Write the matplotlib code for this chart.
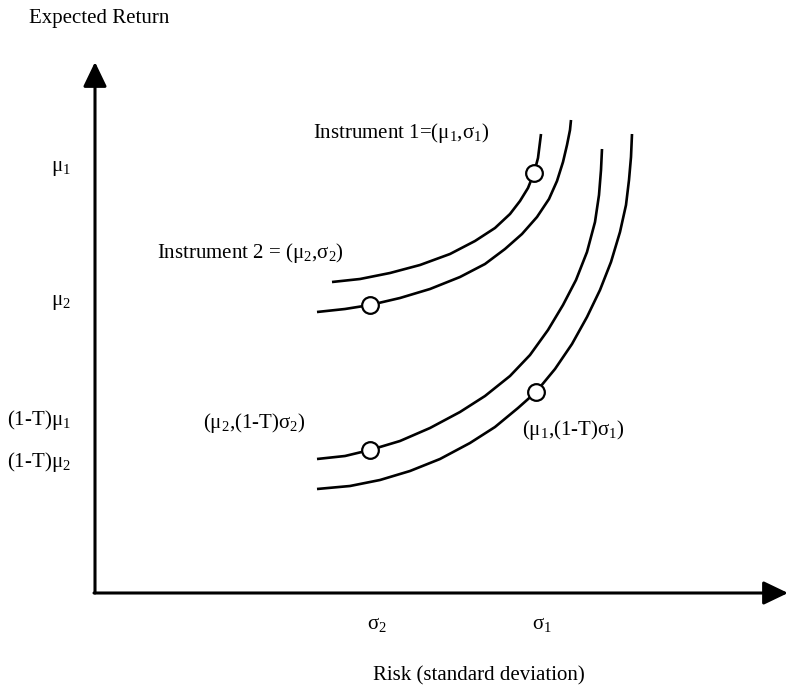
import matplotlib
matplotlib.use("Agg")
import matplotlib.pyplot as plt

plt.rcParams['font.family'] = ['Liberation Serif', 'DejaVu Serif']
plt.rcParams['mathtext.fontset'] = 'custom'
plt.rcParams['mathtext.rm'] = 'Liberation Serif'
plt.rcParams['mathtext.it'] = 'Liberation Serif:italic'
plt.rcParams['mathtext.bf'] = 'Liberation Serif:bold'

# ---- data (risk, expected return) in schematic units ----
curve_a_risk = [237, 265, 295, 325, 355, 380, 400, 415, 425, 433, 439, 443, 446]
curve_a_ret = [311, 314, 320, 328, 339, 352, 365, 379, 392, 405, 420, 435, 459]

curve_b_risk = [222, 250, 275, 305, 335, 365, 390, 410, 427, 442, 454, 462, 468, 472, 475, 476]
curve_b_ret = [281, 284, 288, 295, 304, 316, 329, 344, 359, 376, 394, 412, 431, 448, 463, 473]

curve_c_risk = [222, 250, 275, 305, 335, 365, 390, 415, 435, 453, 468, 481, 492, 500, 504, 506, 507]
curve_c_ret = [134, 137, 143, 152, 165, 181, 197, 217, 238, 263, 288, 313, 341, 371, 398, 423, 444]

curve_d_risk = [222, 255, 285, 315, 345, 375, 400, 423, 441, 460, 477, 492, 505, 516, 525, 531, 534, 536, 537]
curve_d_ret = [104, 107, 113, 122, 134, 150, 166, 185, 201, 224, 249, 276, 303, 331, 361, 388, 413, 436, 459]

point_risk = [439, 275, 275, 441]
point_ret = [420, 288, 143, 201]

x_tick_pos = [282, 447]
x_tick_labels = [r'$\mathrm{\sigma_2}$', r'$\mathrm{\sigma_1}$']

y_tick_pos = [425, 290, 173, 131]
y_tick_labels = [r'$\mathrm{\mu_1}$', r'$\mathrm{\mu_2}$',
                 r'(1-T)$\mathrm{\mu_1}$', r'(1-T)$\mathrm{\mu_2}$']

annot_texts = [r'Instrument 1=($\mathrm{\mu_1}$,$\mathrm{\sigma_1}$)',
               r'Instrument 2 = ($\mathrm{\mu_2}$,$\mathrm{\sigma_2}$)',
               r'($\mathrm{\mu_2}$,(1-T)$\mathrm{\sigma_2}$)',
               r'($\mathrm{\mu_1}$,(1-T)$\mathrm{\sigma_1}$)']
annot_x = [218, 62, 108, 427]
annot_y = [460, 340, 170, 163]

fig = plt.figure(figsize=(7.88, 6.87), dpi=100)
ax = fig.add_axes([0, 0, 1, 1])
ax.set_xlim(-95, 693)
ax.set_ylim(-94, 593)
ax.axis('off')

fs = 15
lw = 1.9
for xs, ys in [(curve_a_risk, curve_a_ret), (curve_b_risk, curve_b_ret),
               (curve_c_risk, curve_c_ret), (curve_d_risk, curve_d_ret)]:
    ax.plot(xs, ys, color='black', lw=lw, solid_capstyle='butt',
            solid_joinstyle='round', zorder=2)

ax.plot(point_risk, point_ret, linestyle='none', marker='o', markersize=12,
        markerfacecolor='white', markeredgecolor='black', markeredgewidth=1.6,
        zorder=3)

# axes with arrow heads
ax.annotate('', xy=(0, 531), xytext=(0, 0),
            arrowprops=dict(arrowstyle='-|>,head_length=0.75,head_width=0.36',
                            mutation_scale=20, lw=2.2, color='black',
                            shrinkA=0, shrinkB=0))
ax.annotate('', xy=(693, 0), xytext=(-1, 0),
            arrowprops=dict(arrowstyle='-|>,head_length=0.75,head_width=0.36',
                            mutation_scale=20, lw=2.2, color='black',
                            shrinkA=0, shrinkB=0))

for pos, lab in zip(x_tick_pos, x_tick_labels):
    ax.text(pos, -31, lab, ha='center', va='center', fontsize=fs)
for pos, lab in zip(y_tick_pos, y_tick_labels):
    ax.text(-24, pos, lab, ha='right', va='center', fontsize=fs)
for t, x, y in zip(annot_texts, annot_x, annot_y):
    ax.text(x, y, t, ha='left', va='center', fontsize=fs)

ax.text(-66, 575, 'Expected Return', ha='left', va='center', fontsize=fs)
ax.text(384, -83, 'Risk (standard deviation)', ha='center', va='center', fontsize=fs)

fig.savefig('out.png', dpi=100)
